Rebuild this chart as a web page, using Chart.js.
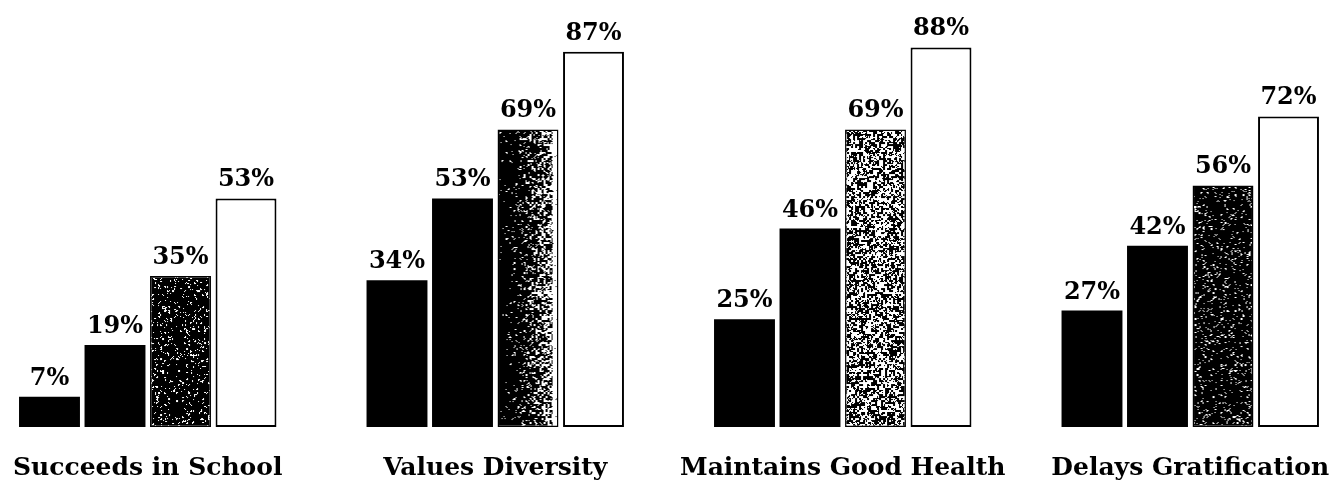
<!DOCTYPE html>
<html>
<head>
<meta charset="utf-8">
<script src="https://cdn.jsdelivr.net/npm/chart.js@4/dist/chart.umd.min.js"></script>
<style>
  html, body { margin: 0; padding: 0; background: #fff; overflow: hidden; }
  #wrap { position: absolute; left: -26px; top: 0; width: 1390px; height: 482px; }
</style>
</head>
<body>
<div id="wrap"><canvas id="c"></canvas></div>
<script>
// Outcome categories and the four group percentages for each
const categories = ['Succeeds in School', 'Values Diversity', 'Maintains Good Health', 'Delays Gratification'];
const seriesA = [7, 34, 25, 27];
const seriesB = [19, 53, 46, 42];
const seriesC = [35, 69, 69, 56];
const seriesD = [53, 87, 88, 72];

const CAT_PCT = 0.754;
const BAR_PCT = 0.93;

// Deterministic hash used for the printed stipple texture
function hash(x, y, s) {
  const v = Math.sin(x * 12.9898 + y * 78.233 + s * 37.719) * 43758.5453;
  return v - Math.floor(v);
}

// Builds a speckled texture; inkFn(u) gives the ink coverage at relative x position u
function stipple(inkFn, seed) {
  const w = 64, h = 440;
  const cv = document.createElement('canvas');
  cv.width = w; cv.height = h;
  const g = cv.getContext('2d');
  const img = g.createImageData(w, h);
  for (let y = 0; y < h; y++) {
    for (let x = 0; x < w; x++) {
      // cluster speckles into small 2x2 blobs with some per-pixel variation
      const coarse = hash(Math.floor(x / 2), Math.floor(y / 2), seed);
      const fine = hash(x, y, seed + 11);
      const n = coarse * 0.7 + fine * 0.3;
      const ink = inkFn(x / 61);
      const v = n < ink ? 0 : 255;
      const k = (y * w + x) * 4;
      img.data[k] = img.data[k + 1] = img.data[k + 2] = v;
      img.data[k + 3] = 255;
    }
  }
  g.putImageData(img, 0, 0);
  return cv;
}

const textures = [
  stipple(() => 0.80, 1),
  stipple(u => (u > 0.9 ? 0.08 : 0.93 - 0.55 * Math.pow(u, 1.4)), 2),
  stipple(() => 0.50, 3),
  stipple(() => 0.80, 4)
];

function stippleFill(ctx) {
  const chart = ctx.chart;
  const xs = chart.scales && chart.scales.x;
  if (ctx.type !== 'data' || !xs) return '#222';
  const i = ctx.dataIndex;
  const catW = xs.width / categories.length;
  const groupW = catW * CAT_PCT;
  const slot = groupW / 4;
  const center = xs.getPixelForValue(i) - groupW / 2 + slot * 2.5;
  const left = center - (slot * BAR_PCT) / 2;
  const pat = chart.ctx.createPattern(textures[i], 'repeat');
  pat.setTransform(new DOMMatrix([1, 0, 0, 1, left, 0]));
  return pat;
}

// Percent labels above each bar and category captions beneath each group
const labelPlugin = {
  id: 'labels',
  afterDatasetsDraw(chart) {
    const g = chart.ctx;
    g.save();
    g.fillStyle = '#000';
    g.textAlign = 'center';
    g.textBaseline = 'alphabetic';
    g.font = 'bold 24px "DejaVu Serif", serif';
    chart.data.datasets.forEach((ds, d) => {
      chart.getDatasetMeta(d).data.forEach((bar, i) => {
        g.fillText(ds.data[i] + '%', bar.x, bar.y - 12);
      });
    });
    g.font = 'bold 25px "DejaVu Serif", serif';
    const xs = chart.scales.x;
    categories.forEach((c, i) => {
      g.fillText(c, xs.getPixelForValue(i), 475);
    });
    g.restore();
  }
};

new Chart(document.getElementById('c'), {
  type: 'bar',
  data: {
    labels: categories,
    datasets: [
      { label: 'A', data: seriesA, backgroundColor: '#000', borderWidth: 0 },
      { label: 'B', data: seriesB, backgroundColor: '#000', borderWidth: 0 },
      { label: 'C', data: seriesC, backgroundColor: stippleFill, borderColor: '#000', borderWidth: 1.5, borderSkipped: false },
      { label: 'D', data: seriesD, backgroundColor: '#fff', borderColor: '#000', borderWidth: 2, borderSkipped: false }
    ]
  },
  options: {
    responsive: true,
    maintainAspectRatio: false,
    animation: false,
    layout: { padding: { top: 0, bottom: 55, left: 0, right: 0 } },
    datasets: { bar: { categoryPercentage: CAT_PCT, barPercentage: BAR_PCT } },
    plugins: { legend: { display: false }, tooltip: { enabled: false } },
    scales: {
      x: { display: false },
      y: { display: false, min: 0, max: 99 }
    }
  },
  plugins: [labelPlugin]
});
</script>
</body>
</html>
